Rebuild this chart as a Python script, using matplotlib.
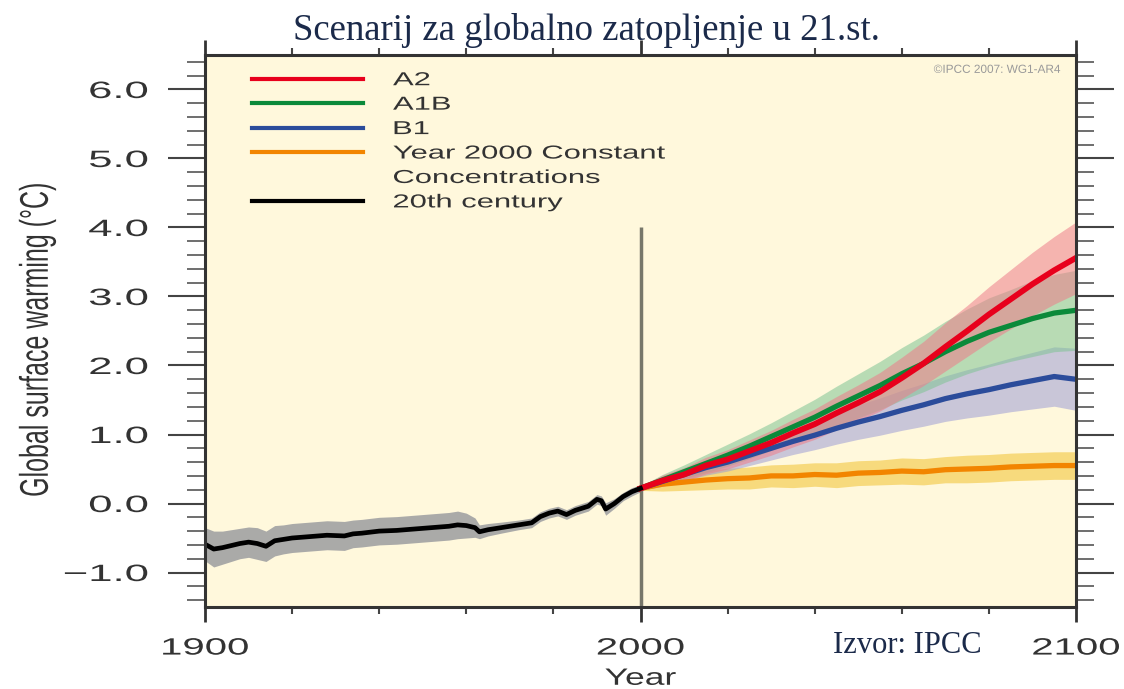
import matplotlib
matplotlib.use('Agg')
import matplotlib.pyplot as plt
from matplotlib.lines import Line2D
from matplotlib.patheffects import AbstractPathEffect
from matplotlib.transforms import Affine2D
from matplotlib.ticker import MultipleLocator

# 20th century (multi-model mean and spread)
years_20c = [1900, 1902, 1904, 1906, 1908, 1910, 1912, 1914, 1916, 1918,
             1920, 1924, 1928, 1932, 1934, 1936, 1940, 1944, 1948, 1952,
             1956, 1958, 1960, 1962, 1963, 1965, 1968, 1972, 1975, 1977,
             1979, 1981, 1983, 1985, 1988, 1990, 1991, 1992, 1994, 1996,
             1998, 2000]
warming_20c = [-0.59, -0.66, -0.64, -0.61, -0.58, -0.56, -0.58, -0.62, -0.54, -0.52,
               -0.50, -0.48, -0.46, -0.47, -0.44, -0.43, -0.40, -0.39, -0.37, -0.35,
               -0.33, -0.31, -0.32, -0.35, -0.41, -0.38, -0.35, -0.31, -0.28, -0.19,
               -0.14, -0.11, -0.16, -0.10, -0.04, 0.06, 0.04, -0.08, 0.00, 0.10,
               0.17, 0.22]
spread_20c = [0.24, 0.26, 0.24, 0.23, 0.22, 0.22, 0.23, 0.22, 0.22, 0.21,
              0.21, 0.21, 0.21, 0.21, 0.20, 0.20, 0.20, 0.20, 0.20, 0.20,
              0.20, 0.20, 0.18, 0.14, 0.10, 0.09, 0.08, 0.07, 0.07, 0.07,
              0.07, 0.07, 0.07, 0.07, 0.07, 0.07, 0.07, 0.09, 0.07, 0.06,
              0.06, 0.05]

# 21st century scenarios, every 5 years 2000..2100
years_21c = [2000, 2005, 2010, 2015, 2020, 2025, 2030, 2035, 2040, 2045, 2050,
             2055, 2060, 2065, 2070, 2075, 2080, 2085, 2090, 2095, 2100]
a2 = [0.22, 0.33, 0.42, 0.55, 0.64, 0.76, 0.88, 1.02, 1.15, 1.31, 1.46,
      1.62, 1.82, 2.03, 2.27, 2.50, 2.74, 2.96, 3.18, 3.38, 3.56]
a2_spread = [0.03, 0.08, 0.10, 0.12, 0.14, 0.16, 0.18, 0.20, 0.22, 0.24, 0.26,
             0.28, 0.30, 0.32, 0.35, 0.37, 0.40, 0.43, 0.46, 0.49, 0.52]
a1b = [0.22, 0.34, 0.46, 0.58, 0.70, 0.83, 0.97, 1.11, 1.25, 1.41, 1.56,
       1.71, 1.88, 2.03, 2.20, 2.35, 2.48, 2.58, 2.68, 2.76, 2.80]
a1b_spread = [0.03, 0.08, 0.10, 0.13, 0.16, 0.18, 0.20, 0.23, 0.26, 0.29, 0.32,
              0.35, 0.38, 0.41, 0.44, 0.47, 0.50, 0.52, 0.55, 0.56, 0.58]
b1 = [0.22, 0.32, 0.42, 0.52, 0.60, 0.70, 0.80, 0.90, 0.99, 1.09, 1.18,
      1.26, 1.35, 1.43, 1.52, 1.59, 1.65, 1.72, 1.78, 1.84, 1.80]
b1_spread = [0.03, 0.07, 0.09, 0.11, 0.13, 0.15, 0.17, 0.19, 0.21, 0.23, 0.25,
             0.27, 0.29, 0.31, 0.33, 0.35, 0.37, 0.39, 0.41, 0.43, 0.45]
const = [0.22, 0.28, 0.31, 0.34, 0.36, 0.37, 0.40, 0.40, 0.42, 0.41, 0.44,
         0.45, 0.47, 0.46, 0.49, 0.50, 0.51, 0.53, 0.54, 0.55, 0.55]
const_spread = [0.03, 0.10, 0.12, 0.14, 0.15, 0.16, 0.16, 0.17, 0.17, 0.18, 0.18,
                0.18, 0.19, 0.19, 0.19, 0.20, 0.20, 0.20, 0.20, 0.20, 0.20]

ytick_vals = [-1, 0, 1, 2, 3, 4, 5, 6]
ytick_labels = ['\u22121.0', '0.0', '1.0', '2.0', '3.0', '4.0', '5.0', '6.0']
xtick_vals = [1900, 2000, 2100]
legend_labels = ['A2', 'A1B', 'B1', 'Year 2000 Constant', 'Concentrations', '20th century']


class Stretch(AbstractPathEffect):
    """The source picture is stretched sideways, so stretch glyphs the same way."""
    def __init__(self, sx=1.0, sy=1.0, ax=0.0, ay=0.5):
        super().__init__()
        self.sx, self.sy, self.ax, self.ay = sx, sy, ax, ay

    def draw_path(self, renderer, gc, tpath, affine, rgbFace=None):
        ext = tpath.get_extents()
        x0 = ext.x0 + self.ax * ext.width
        y0 = ext.y0 + self.ay * ext.height
        t = Affine2D().translate(-x0, -y0).scale(self.sx, self.sy).translate(x0, y0)
        renderer.draw_path(gc, tpath, t + affine, rgbFace)


plt.rcParams['font.family'] = 'Liberation Sans'
ink = '#333333'

fig = plt.figure(figsize=(11.24, 6.89), dpi=100)
ax = fig.add_axes([0.1824, 0.119, 0.9573 - 0.1824, 0.9202 - 0.119])
ax.set_facecolor('#FFF8DC')

# spread bands
def band(x, y, s, color, alpha=0.55):
    lo = [a - b for a, b in zip(y, s)]
    hi = [a + b for a, b in zip(y, s)]
    ax.fill_between(x, lo, hi, color=color, alpha=alpha, lw=0)

band(years_21c, const, const_spread, '#F2C230')
band(years_21c, b1, b1_spread, '#9D9DD6')
band(years_21c, a1b, a1b_spread, '#7FC494')
band(years_21c, a2, a2_spread, '#EE7C8A')
band(years_20c, warming_20c, spread_20c, '#A6A6A6', alpha=0.95)

ax.vlines(2000, -1.5, 4.0, color='#77776A', lw=2.5, zorder=1)

ax.plot(years_21c, const, color='#F28500', lw=3.8)
ax.plot(years_21c, b1, color='#2B4C9B', lw=3.8)
ax.plot(years_21c, a1b, color='#0B8A3A', lw=3.8)
ax.plot(years_21c, a2, color='#E8001C', lw=4.2)
ax.plot(years_20c, warming_20c, color='black', lw=3.4)

ax.set_xlim(1900, 2100)
ax.set_ylim(-1.5, 6.5)
ax.set_xticks(xtick_vals)
ax.xaxis.set_minor_locator(MultipleLocator(20))
ax.set_yticks(ytick_vals, ytick_labels)
ax.yaxis.set_minor_locator(MultipleLocator(0.2))

ax.tick_params(axis='y', which='major', direction='out', length=27, width=1.5,
               left=True, right=True, color='#444444', labelcolor=ink,
               labelsize=17, pad=14)
ax.tick_params(axis='y', which='minor', direction='out', length=13, width=1.2,
               left=True, right=True, color='#555555')
ax.tick_params(axis='x', which='major', direction='out', length=11, width=2,
               top=True, bottom=True, color='#333333', labelcolor=ink,
               labelsize=17, pad=11)
ax.tick_params(axis='x', which='minor', direction='out', length=5, width=1.5,
               top=True, bottom=True, color='#444444')
for sp in ax.spines.values():
    sp.set_linewidth(2.2)
    sp.set_color('#333333')

for lab in ax.get_yticklabels():
    lab.set_path_effects([Stretch(sx=1.85, ax=1.0)])
for lab in ax.get_xticklabels():
    lab.set_path_effects([Stretch(sx=1.7, ax=0.5)])

ax.set_ylabel('Global surface warming (\u00b0C)', fontsize=18, color=ink, va='center')
ax.yaxis.set_label_coords(-0.193, 0.484)
ax.yaxis.label.set_path_effects([Stretch(sy=1.6, ay=0.5)])
ax.set_xlabel('Year', fontsize=17, color=ink, va='center')
ax.xaxis.set_label_coords(0.5, -0.13)
ax.xaxis.label.set_path_effects([Stretch(sx=1.5, ax=0.5)])

# legend: "Concentrations" is the second line of the constant-concentration entry
handles = [Line2D([], [], color='#E8001C', lw=3),
           Line2D([], [], color='#0B8A3A', lw=3),
           Line2D([], [], color='#2B4C9B', lw=3),
           Line2D([], [], color='#F28500', lw=3),
           Line2D([], [], color='none', lw=3),
           Line2D([], [], color='black', lw=3)]
leg = ax.legend(handles, legend_labels, loc='upper left', bbox_to_anchor=(0.054, 0.969),
                frameon=False, fontsize=13.5, handlelength=5.92, handletextpad=1.6,
                labelspacing=0.39, borderpad=0, borderaxespad=0)
for t in leg.get_texts():
    t.set_color(ink)
    t.set_path_effects([Stretch(sx=1.65, ax=0.0)])

cr = ax.text(0.982, 0.973, '\u00a9IPCC 2007: WG1-AR4', transform=ax.transAxes,
             ha='right', va='center', fontsize=8.5, color='#9A9A9A')
cr.set_path_effects([Stretch(sx=1.0, ax=1.0)])

fig.text(0.522, 1 - 40 / 689, 'Scenarij za globalno zatopljenje u 21.st.',
         family='Liberation Serif', fontsize=26.5, color='#1B2A4A', ha='center', va='baseline')
fig.text(833 / 1124, 1 - 653 / 689, 'Izvor: IPCC', family='Liberation Serif',
         fontsize=22, color='#1B2A4A', ha='left', va='baseline')

fig.savefig('out.png', dpi=100)
